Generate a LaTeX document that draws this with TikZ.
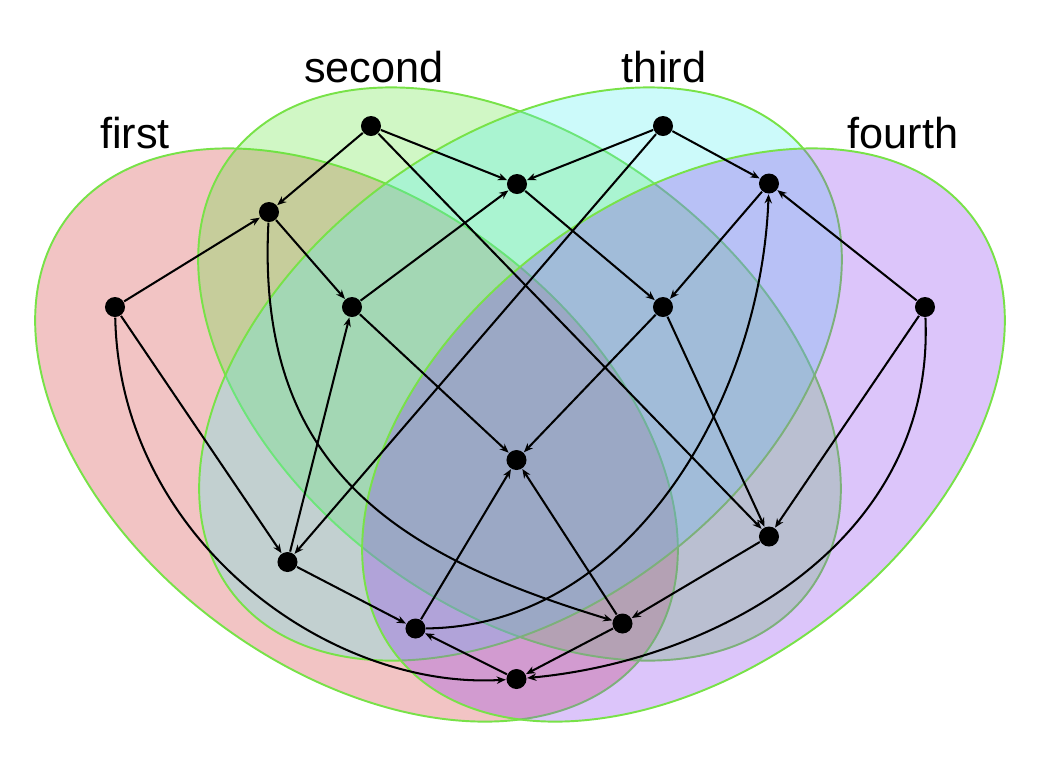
\documentclass[tikz,border=0pt]{standalone}
\usepackage{fontspec}
\setmainfont{Liberation Sans}
\usetikzlibrary{arrows.meta}
\definecolor{cA}{RGB}{212,58,58}
\definecolor{cB}{RGB}{98,228,62}
\definecolor{cC}{RGB}{85,238,238}
\definecolor{cD}{RGB}{138,62,238}
\definecolor{rim}{RGB}{120,226,72}
\begin{document}
\begin{tikzpicture}[x=0.01cm, y=-0.01cm,
  dot/.style={circle, fill=black, inner sep=0pt, minimum size=0.2cm},
  link/.style={line width=0.58pt, -{Stealth[length=2.6pt,width=2.1pt]}},
  setlabel/.style={anchor=base, inner sep=0pt, font=\fontsize{12.3pt}{14pt}\selectfont},
  venn/.style={fill opacity=0.3, draw=rim, line width=0.55pt}]
\useasboundingbox (0,0) rectangle (1038,759);
% sets
\begin{scope}[shift={(356.5,435)}, rotate=-37]
  \path[venn, fill=cA] (0,0) ellipse [x radius=3.616cm, y radius=2.332cm];
\end{scope}
\begin{scope}[shift={(519.5,374)}, rotate=-37]
  \path[venn, fill=cB] (0,0) ellipse [x radius=3.616cm, y radius=2.332cm];
\end{scope}
\begin{scope}[shift={(520.5,374)}, rotate=37]
  \path[venn, fill=cC] (0,0) ellipse [x radius=3.616cm, y radius=2.332cm];
\end{scope}
\begin{scope}[shift={(683.5,435)}, rotate=37]
  \path[venn, fill=cD] (0,0) ellipse [x radius=3.616cm, y radius=2.332cm];
\end{scope}
% labels
\node[setlabel] (lfirst) at (135,148) {first};
\node[setlabel] (lsecond) at (374,82) {second};
\node[setlabel] (lthird) at (664,82) {third};
\node[setlabel] (lfourth) at (903,148) {fourth};
% dots
\node[dot] (A) at (115,307) {};
\node[dot] (B) at (371,126) {};
\node[dot] (C) at (663,126) {};
\node[dot] (D) at (925,307) {};
\node[dot] (AB) at (269,212) {};
\node[dot] (BC) at (517,184) {};
\node[dot] (CD) at (769,183.5) {};
\node[dot] (n7) at (352,307) {};
\node[dot] (n8) at (663,307) {};
\node[dot] (n10) at (516.5,460) {};
\node[dot] (n11) at (769,536.5) {};
\node[dot] (n12) at (287.5,562) {};
\node[dot] (n13) at (415.5,628.5) {};
\node[dot] (n14) at (622.5,623.5) {};
\node[dot] (n15) at (516.5,679) {};
% straight links
\draw[link] (B) -- (AB);
\draw[link] (A) -- (AB);
\draw[link] (AB) -- (n7);
\draw[link] (n7) -- (BC);
\draw[link] (B) -- (BC);
\draw[link] (C) -- (BC);
\draw[link] (C) -- (CD);
\draw[link] (D) -- (CD);
\draw[link] (BC) -- (n8);
\draw[link] (CD) -- (n8);
\draw[link] (C) -- (n12);
\draw[link] (B) -- (n11);
\draw[link] (n7) -- (n10);
\draw[link] (n8) -- (n10);
\draw[link] (n8) -- (n11);
\draw[link] (D) -- (n11);
\draw[link] (A) -- (n12);
\draw[link] (n12) -- (n7);
\draw[link] (n12) -- (n13);
\draw[link] (n13) -- (n10);
\draw[link] (n14) -- (n10);
\draw[link] (n11) -- (n14);
\draw[link] (n14) -- (n15);
\draw[link] (n15) -- (n13);
% curved links
\draw[link] (AB) .. controls +(-13.6,260) and +(-220,-67) .. (n14);
\draw[link] (A) .. controls +(5,233) and +(-187,11) .. (n15);
\draw[link] (D) .. controls +(10,233) and +(203,-19) .. (n15);
\draw[link] (n13) .. controls +(214,-2) and +(-8,217) .. (CD);
\end{tikzpicture}
\end{document}
